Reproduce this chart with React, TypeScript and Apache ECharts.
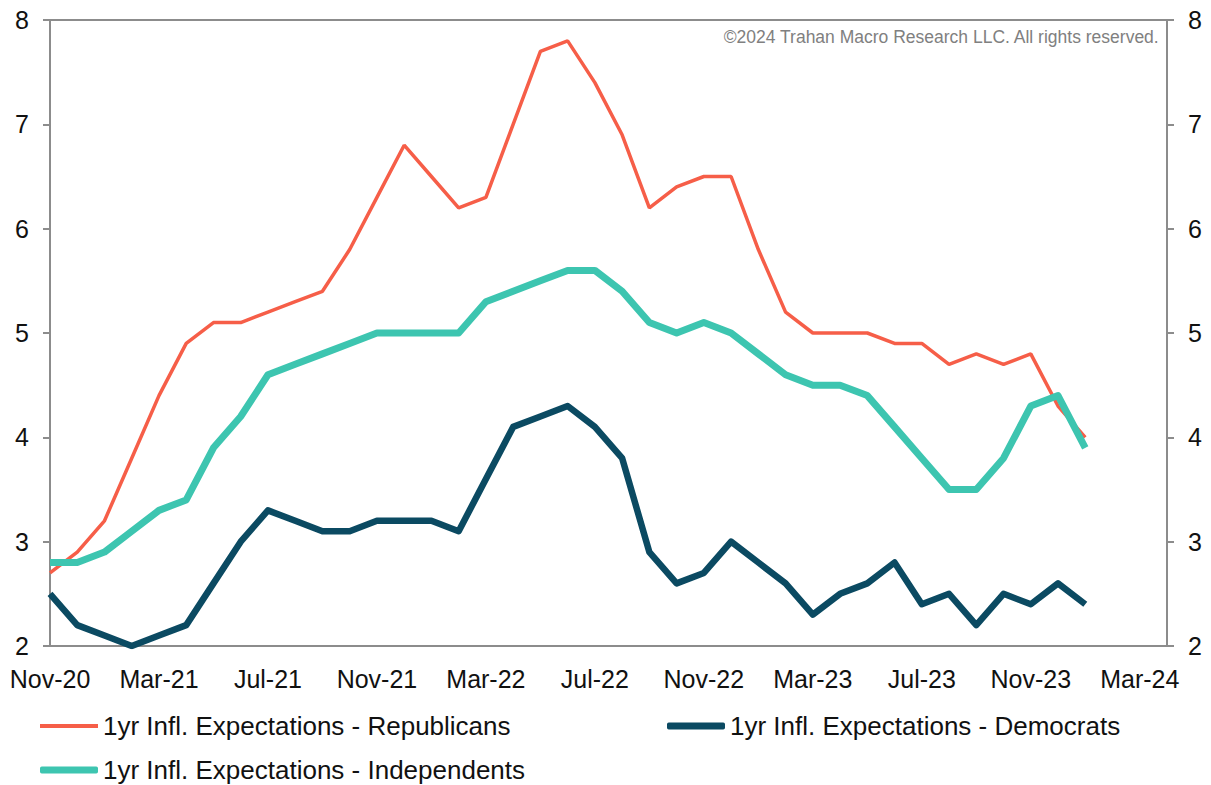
import React, { useEffect, useRef } from "react";
import * as echarts from "echarts";

const months: string[] = [
  "Nov-20", "Dec-20", "Jan-21", "Feb-21", "Mar-21", "Apr-21", "May-21", "Jun-21", "Jul-21", "Aug-21", "Sep-21", "Oct-21",
  "Nov-21", "Dec-21", "Jan-22", "Feb-22", "Mar-22", "Apr-22", "May-22", "Jun-22", "Jul-22", "Aug-22", "Sep-22", "Oct-22",
  "Nov-22", "Dec-22", "Jan-23", "Feb-23", "Mar-23", "Apr-23", "May-23", "Jun-23", "Jul-23", "Aug-23", "Sep-23", "Oct-23",
  "Nov-23", "Dec-23", "Jan-24", "Feb-24", "Mar-24", "Apr-24",
];

const republicans: number[] = [
  2.7, 2.9, 3.2, 3.8, 4.4, 4.9, 5.1, 5.1, 5.2, 5.3, 5.4, 5.8, 6.3, 6.8, 6.5, 6.2, 6.3, 7.0, 7.7, 7.8,
  7.4, 6.9, 6.2, 6.4, 6.5, 6.5, 5.8, 5.2, 5.0, 5.0, 5.0, 4.9, 4.9, 4.7, 4.8, 4.7, 4.8, 4.3, 4.0,
];

const democrats: number[] = [
  2.5, 2.2, 2.1, 2.0, 2.1, 2.2, 2.6, 3.0, 3.3, 3.2, 3.1, 3.1, 3.2, 3.2, 3.2, 3.1, 3.6, 4.1, 4.2, 4.3,
  4.1, 3.8, 2.9, 2.6, 2.7, 3.0, 2.8, 2.6, 2.3, 2.5, 2.6, 2.8, 2.4, 2.5, 2.2, 2.5, 2.4, 2.6, 2.4,
];

const independents: number[] = [
  2.8, 2.8, 2.9, 3.1, 3.3, 3.4, 3.9, 4.2, 4.6, 4.7, 4.8, 4.9, 5.0, 5.0, 5.0, 5.0, 5.3, 5.4, 5.5, 5.6,
  5.6, 5.4, 5.1, 5.0, 5.1, 5.0, 4.8, 4.6, 4.5, 4.5, 4.4, 4.1, 3.8, 3.5, 3.5, 3.8, 4.3, 4.4, 3.9,
];

const NAME_R = "1yr Infl. Expectations - Republicans";
const NAME_D = "1yr Infl. Expectations - Democrats";
const NAME_I = "1yr Infl. Expectations - Independents";
const COPYRIGHT = "©2024 Trahan Macro Research LLC. All rights reserved.";

const RED = "#F65E48";
const NAVY = "#0B4A62";
const TEAL = "#3DC5B0";
const AXIS = "#8C8C8C";
const FONT = "'Liberation Sans', Arial, sans-serif";

export default function App() {
  const ref = useRef<HTMLDivElement>(null);

  useEffect(() => {
    if (!ref.current) return;
    const chart = echarts.init(ref.current, null, { renderer: "svg" });

    const yAxisBase = {
      type: "value" as const,
      min: 2,
      max: 8,
      interval: 1,
      axisLine: { show: true, lineStyle: { color: AXIS, width: 2 } },
      axisTick: { show: true, inside: false, length: 7, lineStyle: { color: AXIS, width: 2 } },
      splitLine: { show: false },
      axisLabel: { color: "#111", fontSize: 25, fontFamily: FONT, margin: 21 },
    };

    const legendBase = {
      orient: "horizontal" as const,
      padding: 0,
      itemWidth: 58,
      itemGap: 10,
      textStyle: { color: "#111", fontSize: 26, fontFamily: FONT, lineHeight: 30 },
      selectedMode: false,
    };

    chart.setOption({
      animation: false,
      backgroundColor: "#ffffff",
      grid: {
        left: 50,
        right: 44,
        top: 20,
        bottom: 139,
        show: true,
        borderColor: AXIS,
        borderWidth: 2,
        backgroundColor: "transparent",
      },
      xAxis: {
        type: "category",
        data: months,
        boundaryGap: false,
        axisLine: { show: true, lineStyle: { color: AXIS, width: 2 } },
        axisTick: { show: false },
        splitLine: { show: false },
        axisLabel: {
          interval: (index: number) => index % 4 === 0,
          color: "#111",
          fontSize: 25,
          fontFamily: FONT,
          margin: 20,
          hideOverlap: false,
        },
      },
      yAxis: [
        { ...yAxisBase, position: "left" },
        { ...yAxisBase, position: "right" },
      ],
      legend: [
        { ...legendBase, left: 40, top: 711, data: [{ name: NAME_R, icon: "rect", itemStyle: { color: RED } }], itemHeight: 4 },
        { ...legendBase, left: 667, top: 711, data: [{ name: NAME_D, icon: "roundRect", itemStyle: { color: NAVY } }], itemHeight: 7 },
        { ...legendBase, left: 40, top: 755, data: [{ name: NAME_I, icon: "roundRect", itemStyle: { color: TEAL } }], itemHeight: 7 },
      ],
      graphic: [
        {
          type: "text",
          right: 51,
          top: 28,
          style: {
            text: COPYRIGHT,
            fill: "#808080",
            fontSize: 17.5,
            fontFamily: FONT,
          },
        },
      ],
      series: [
        {
          name: NAME_R,
          type: "line",
          data: republicans,
          yAxisIndex: 0,
          symbol: "none",
          lineStyle: { color: RED, width: 3.5 },
          itemStyle: { color: RED },
          z: 2,
        },
        {
          name: NAME_D,
          type: "line",
          data: democrats,
          yAxisIndex: 0,
          symbol: "none",
          lineStyle: { color: NAVY, width: 6.5, join: "round" },
          itemStyle: { color: NAVY },
          z: 3,
        },
        {
          name: NAME_I,
          type: "line",
          data: independents,
          yAxisIndex: 0,
          symbol: "none",
          lineStyle: { color: TEAL, width: 7, join: "round" },
          itemStyle: { color: TEAL },
          z: 4,
        },
      ],
    });

    return () => chart.dispose();
  }, []);

  return (
    <div
      ref={ref}
      style={{ position: "fixed", left: 0, top: 0, width: 1211, height: 785, background: "#fff" }}
    />
  );
}
